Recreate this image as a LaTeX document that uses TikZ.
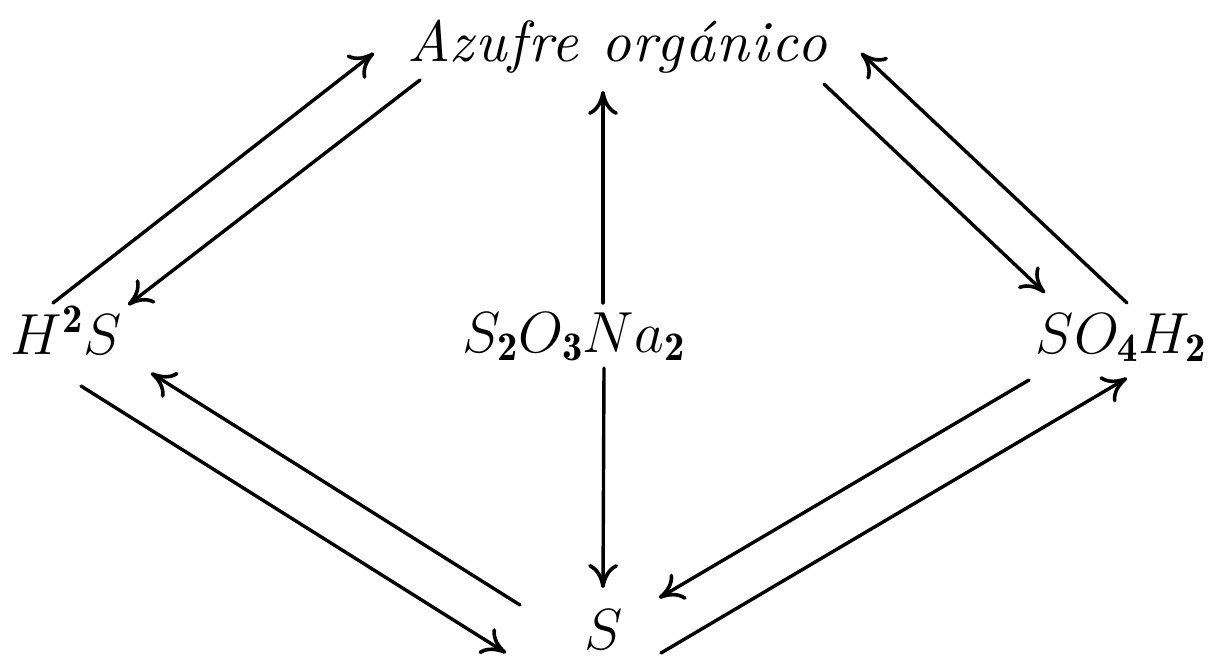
\RequirePackage{fix-cm}
\documentclass[tikz,border=0pt]{standalone}
\usepackage{fontspec}
\newfontfamily\azfont{lmroman10-italic}[Extension=.otf,LetterSpace=3.5]
\usetikzlibrary{arrows.meta}
\begin{document}
\begin{tikzpicture}[x=1pt,y=-1pt,
  lbl/.style={anchor=base,inner sep=0pt,font=\fontsize{58}{60}\selectfont},
  arr/.style={line width=3.4pt,line cap=round,
    -{Computer Modern Rightarrow[length=24pt,width=30pt,line width=3.6pt]}}]
\useasboundingbox (0,0) rectangle (1215,658);
% nodes
\node[lbl] (az) at (617,62) {\azfont Azufre orgánico};
\node[lbl] (hs) at (66,354) {$H^{\mathbf{2}}S$};
\node[lbl] (th) at (574,352) {$S_{\mathbf{2}}O_{\mathbf{3}}Na_{\mathbf{2}}$};
\node[lbl] (so) at (1121,353) {$SO_{\mathbf{4}}H_{\mathbf{2}}$};
\node[lbl] (s) at (604,649) {$S$};
% arrow end points, placed relative to the nodes
\coordinate (a1s) at ([shift={(-13,-51)}]hs.base);
\coordinate (a1e) at ([shift={(-243,-9)}]az.base);
\coordinate (a2s) at ([shift={(-197,18)}]az.base);
\coordinate (a2e) at ([shift={(62,-49)}]hs.base);
\coordinate (a3s) at ([shift={(29,-49)}]th.base);
\coordinate (a3e) at ([shift={(-14,29)}]az.base);
\coordinate (a4s) at ([shift={(30,16)}]th.base);
\coordinate (a4e) at ([shift={(-1,-61)}]s.base);
\coordinate (a5s) at ([shift={(207,22)}]az.base);
\coordinate (a5e) at ([shift={(-76,-60)}]so.base);
\coordinate (a6s) at ([shift={(6,-50)}]so.base);
\coordinate (a6e) at ([shift={(244,-9)}]az.base);
\coordinate (a7s) at ([shift={(15,32)}]hs.base);
\coordinate (a7e) at ([shift={(-98,4)}]s.base);
\coordinate (a8s) at ([shift={(-84,-44)}]s.base);
\coordinate (a8e) at ([shift={(85,19)}]hs.base);
\coordinate (a9s) at ([shift={(-92,27)}]so.base);
\coordinate (a9e) at ([shift={(55,-51)}]s.base);
\coordinate (a10s) at ([shift={(57,4)}]s.base);
\coordinate (a10e) at ([shift={(6,25)}]so.base);
% connectors
\draw[arr] (a1s) -- (a1e);
\draw[arr] (a2s) -- (a2e);
\draw[arr] (a3s) -- (a3e);
\draw[arr] (a4s) -- (a4e);
\draw[arr] (a5s) -- (a5e);
\draw[arr] (a6s) -- (a6e);
\draw[arr] (a7s) -- (a7e);
\draw[arr] (a8s) -- (a8e);
\draw[arr] (a9s) -- (a9e);
\draw[arr] (a10s) -- (a10e);
\end{tikzpicture}
\end{document}
